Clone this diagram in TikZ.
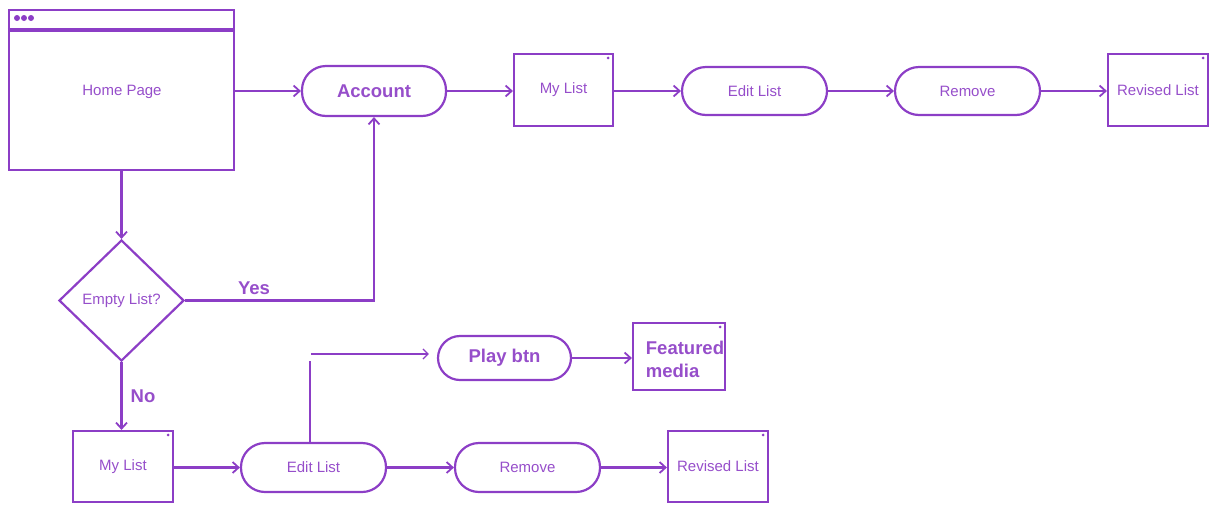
\documentclass[tikz,border=0pt]{standalone}
\usepackage{fontspec}
\setmainfont{Liberation Sans}
\usetikzlibrary{arrows.meta,shapes.geometric,calc}
\definecolor{lc}{RGB}{140,62,198}
\definecolor{tc}{RGB}{150,78,202}
\tikzset{
  x=1pt,y=-1pt,
  every node/.style={text=tc,font=\fontsize{15}{17}\selectfont},
  boxn/.style={draw=lc,line width=2.2pt,rectangle,inner sep=0pt},
  pill/.style={draw=lc,line width=2.2pt,rectangle,rounded corners=24pt,inner sep=0pt},
  bold/.style={font=\fontsize{18.5}{23}\selectfont\bfseries},
  conn/.style={draw=lc,line width=2.2pt},
  arr/.style={conn,-{Straight Barb[length=6pt,width=11pt,line width=1.8pt]}},
  cdot/.style={fill=lc,circle,inner sep=0pt,minimum size=3pt,draw=none},
}
\begin{document}
\begin{tikzpicture}
\useasboundingbox (0,0) rectangle (1210,504);
% Home page
\node[boxn,minimum width=225pt,minimum height=160pt] (home) at (121.5,90) {};
\node at (122,92) (hometxt) {Home Page};
\draw[conn,line width=3.2pt] (home.west |- 0,30) -- (home.east |- 0,30);
\foreach \i/\xx in {1/17,2/24,3/31}{\node[cdot,minimum size=6pt] (hd\i) at (\xx,18) {};}
% top row
\node[pill,bold,minimum width=144pt,minimum height=50pt] (acc) at (374,91) {Account};
\node[boxn,minimum width=99pt,minimum height=72pt] (ml1) at (563.5,90) {My List};
\node[pill,minimum width=145pt,minimum height=48pt] (el1) at (754.5,91) {Edit List};
\node[pill,minimum width=145pt,minimum height=48pt] (rm1) at (967.5,91) {Remove};
\node[boxn,minimum width=100pt,minimum height=72pt] (rl1) at (1158,90) {Revised List};
% diamond
\node[draw=lc,line width=2.2pt,diamond,minimum width=125pt,minimum height=121pt,inner sep=0pt] (dia) at (121.5,300.5) {};
\node at (121.5,301) (diatxt) {Empty List?};
% bottom row
\node[boxn,minimum width=100pt,minimum height=71pt] (ml2) at (123,466.5) {My List};
\node[pill,minimum width=145pt,minimum height=49pt] (el2) at (313.5,467.5) {Edit List};
\node[pill,minimum width=145pt,minimum height=49pt] (rm2) at (527.5,467.5) {Remove};
\node[boxn,minimum width=100pt,minimum height=71pt] (rl2) at (718,466.5) {Revised List};
\node[pill,bold,minimum width=133pt,minimum height=44pt,rounded corners=22pt] (pb) at (504.5,358) {Play btn};
\node[boxn,minimum width=92pt,minimum height=67pt] (fm) at (679,356.5) {};
\node[bold,align=left,inner sep=0pt] (fmtxt) at (685,359) {Featured\\media};
% corner dots
\foreach \n in {ml1,rl1,ml2,rl2,fm}{\node[cdot,minimum size=3pt] at ($(\n.north east)+(-6,5)$) {};}
% connectors
\draw[arr] (home.east |- acc.west) -- (acc.west);
\draw[arr] (acc.east) -- (ml1.west |- acc.east);
\draw[arr] (ml1.east |- el1.west) -- (el1.west);
\draw[arr] (el1.east) -- (rm1.west);
\draw[arr] (rm1.east) -- (rl1.west |- rm1.east);
\draw[arr] (home.south -| dia.north) -- (dia.north);
\draw[arr] (dia.east) -| (acc.south);
\draw[arr] (dia.south) -- (ml2.north -| dia.south);
\draw[arr] (ml2.east |- el2.west) -- (el2.west);
\draw[arr] (el2.east) -- (rm2.west);
\draw[arr] (rm2.east) -- (rl2.west |- rm2.east);
\coordinate (bend) at (310,354);
\draw[conn,line width=1.4pt] (el2.north -| bend) -- ($(bend)+(0,7)$);
\draw[conn,line width=1.4pt,-{Straight Barb[length=5pt,width=10pt,line width=1.3pt]}] ($(bend)+(1,0)$) -- ($(pb.west |- bend)+(-8,0)$);
\draw[arr] (pb.east) -- (fm.west |- pb.east);
% labels
\node[bold] (yes) at (254,288) {Yes};
\node[bold] (no) at (143,396) {No};
\end{tikzpicture}
\end{document}
